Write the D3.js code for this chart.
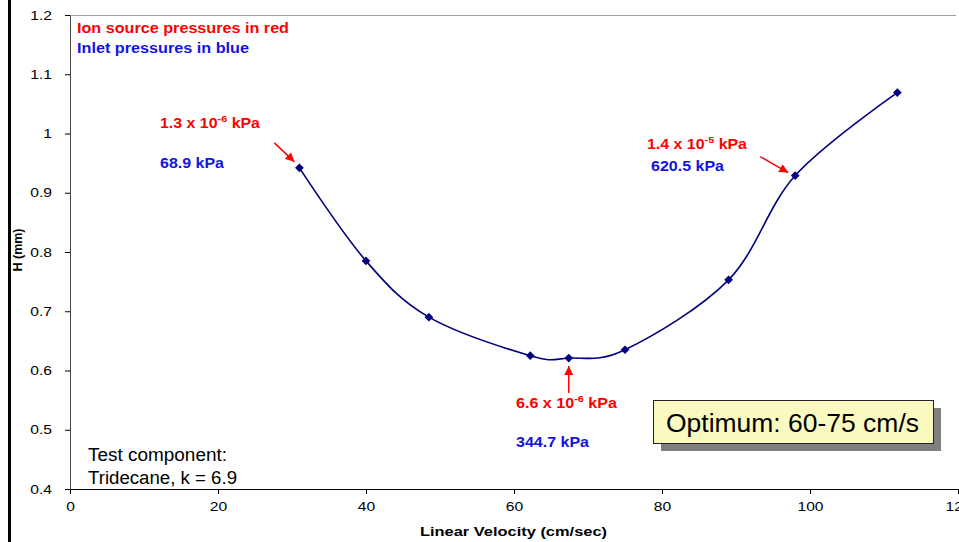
<!DOCTYPE html>
<html>
<head>
<meta charset="utf-8">
<script src="https://cdn.jsdelivr.net/npm/d3@7"></script>
<style>
  body { margin: 0; background: #fff; }
  svg { display: block; font-family: Arial, "Liberation Sans", sans-serif; }
</style>
</head>
<body>
<svg id="chart" width="959" height="542"></svg>
<script>
// data
const velocity = [31, 40, 48.5, 62.2, 67.4, 75, 89, 98, 111.8];
const height = [0.942, 0.785, 0.69, 0.625, 0.621, 0.635, 0.753, 0.929, 1.069];
const xTicks = [0, 20, 40, 60, 80, 100, 120];
const yTicks = [0.4, 0.5, 0.6, 0.7, 0.8, 0.9, 1, 1.1, 1.2];

// pressure notes at some points
const notes = [
  { i: 0, ion: "1.3 x 10", exp: "-6", inlet: "68.9 kPa" },
  { i: 4, ion: "6.6 x 10", exp: "-6", inlet: "344.7 kPa" },
  { i: 7, ion: "1.4 x 10", exp: "-5", inlet: "620.5 kPa" }
];

const svg = d3.select("#chart");
const padL = 70, padR = 958, padT = 15, padB = 489;
const red = "#ff0000", blue = "#1414e0", navy = "#000080";

const x = d3.scaleLinear().domain([0, 120]).range([padL, padR]);
const y = d3.scaleLinear().domain([0.4, 1.2]).range([padB, padT]);

// the old chart renders its text a bit wide, so stretch to the measured width
function fit(sel, w) {
  sel.attr("textLength", w).attr("lengthAdjust", "spacingAndGlyphs");
  return sel;
}
function stretch(sel, f) {
  sel.each(function () {
    d3.select(this).attr("textLength", this.getComputedTextLength() * f)
      .attr("lengthAdjust", "spacingAndGlyphs");
  });
}

// frame line at left
svg.append("line").attr("x1", 9.5).attr("x2", 9.5).attr("y1", 0).attr("y2", 542)
  .attr("stroke", "#000").attr("stroke-width", 3);

// top border of plot area
svg.append("line").attr("x1", padL).attr("x2", 956).attr("y1", padT + 0.5).attr("y2", padT + 0.5)
  .attr("stroke", "#a0a0a0").attr("stroke-width", 1);

// axes
const xAxis = svg.append("g").attr("transform", `translate(0,${padB})`)
  .call(d3.axisBottom(x).tickValues(xTicks).tickSizeOuter(0).tickSizeInner(5).tickPadding(8));
const yAxis = svg.append("g").attr("transform", `translate(${padL},0)`)
  .call(d3.axisLeft(y).tickValues(yTicks).tickFormat(d3.format("")).tickSizeOuter(0).tickSizeInner(5).tickPadding(13));
[xAxis, yAxis].forEach(g => {
  g.selectAll("text").attr("font-size", 13).attr("fill", "#000").attr("font-family", "Arial, 'Liberation Sans', sans-serif");
  g.selectAll("line").attr("stroke", "#000");
  stretch(g.selectAll("text"), 1.2);
});
xAxis.select(".domain").attr("stroke", "#000");
yAxis.select(".domain").attr("stroke", "#444");

// axis titles
fit(svg.append("text").attr("x", 513.5).attr("y", 536).attr("text-anchor", "middle")
  .attr("font-size", 13).attr("font-weight", "bold").text("Linear Velocity (cm/sec)"), 187);
svg.append("text").attr("transform", "translate(22,250) rotate(-90)").attr("text-anchor", "middle")
  .attr("font-size", 12.5).attr("font-weight", "bold").text("H (mm)");

// curve
const pts = velocity.map((v, i) => [x(v), y(height[i])]);
svg.append("path").attr("d", d3.line().curve(d3.curveCardinal.tension(0))(pts))
  .attr("fill", "none").attr("stroke", navy).attr("stroke-width", 1.6);
svg.selectAll(".pt").data(pts).join("path").attr("class", "pt")
  .attr("transform", d => `translate(${d[0]},${d[1]}) rotate(45)`)
  .attr("d", d3.symbol(d3.symbolSquare, 38)).attr("fill", navy);

// legend text
fit(svg.append("text").attr("x", 77).attr("y", 33).attr("font-size", 14).attr("font-weight", "bold")
  .attr("fill", red).text("Ion source pressures in red"), 212);
fit(svg.append("text").attr("x", 77).attr("y", 53).attr("font-size", 14).attr("font-weight", "bold")
  .attr("fill", blue).text("Inlet pressures in blue"), 172);

// arrowhead
svg.append("defs").append("marker").attr("id", "arr").attr("viewBox", "0 0 10 10")
  .attr("refX", 10).attr("refY", 5).attr("markerWidth", 6).attr("markerHeight", 6)
  .attr("orient", "auto").append("path").attr("d", "M0,0L10,5L0,10z").attr("fill", red);

// label positions relative to each point
const labelPos = [
  { ion: [160, 128], ionW: 100, inlet: [160, 168], inletW: 64, from: [-25, -25], to: [-5, -6] },
  { ion: [516, 408], ionW: 101, inlet: [516, 447], inletW: 73, from: [0, 35], to: [0, 8] },
  { ion: [647, 149], ionW: 100, inlet: [651, 171], inletW: 73, from: [-35, -19], to: [-7, -3] }
];
notes.forEach((n, k) => {
  const p = pts[n.i], lp = labelPos[k];
  const t = svg.append("text").attr("x", lp.ion[0]).attr("y", lp.ion[1])
    .attr("font-size", 14).attr("font-weight", "bold").attr("fill", red);
  t.append("tspan").text(n.ion);
  t.append("tspan").attr("dy", -6).attr("font-size", 9.5).text(n.exp);
  t.append("tspan").attr("dy", 6).text(" kPa");
  fit(t, lp.ionW);
  fit(svg.append("text").attr("x", lp.inlet[0]).attr("y", lp.inlet[1])
    .attr("font-size", 14).attr("font-weight", "bold").attr("fill", blue).text(n.inlet), lp.inletW);
  svg.append("line")
    .attr("x1", p[0] + lp.from[0]).attr("y1", p[1] + lp.from[1])
    .attr("x2", p[0] + lp.to[0]).attr("y2", p[1] + lp.to[1])
    .attr("stroke", red).attr("stroke-width", 1.5).attr("marker-end", "url(#arr)");
});

// test component note
fit(svg.append("text").attr("x", 88).attr("y", 461).attr("font-size", 18).text("Test component:"), 139);
fit(svg.append("text").attr("x", 88).attr("y", 484).attr("font-size", 18).text("Tridecane, k = 6.9"), 149);

// optimum box with shadow
svg.append("rect").attr("x", 661).attr("y", 408).attr("width", 280).attr("height", 43).attr("fill", "#808080");
svg.append("rect").attr("x", 653.5).attr("y", 400.5).attr("width", 280).attr("height", 43)
  .attr("fill", "#fafac0").attr("stroke", "#222").attr("stroke-width", 1);
fit(svg.append("text").attr("x", 666).attr("y", 432).attr("font-size", 26).text("Optimum: 60-75 cm/s"), 253);
</script>
</body>
</html>
